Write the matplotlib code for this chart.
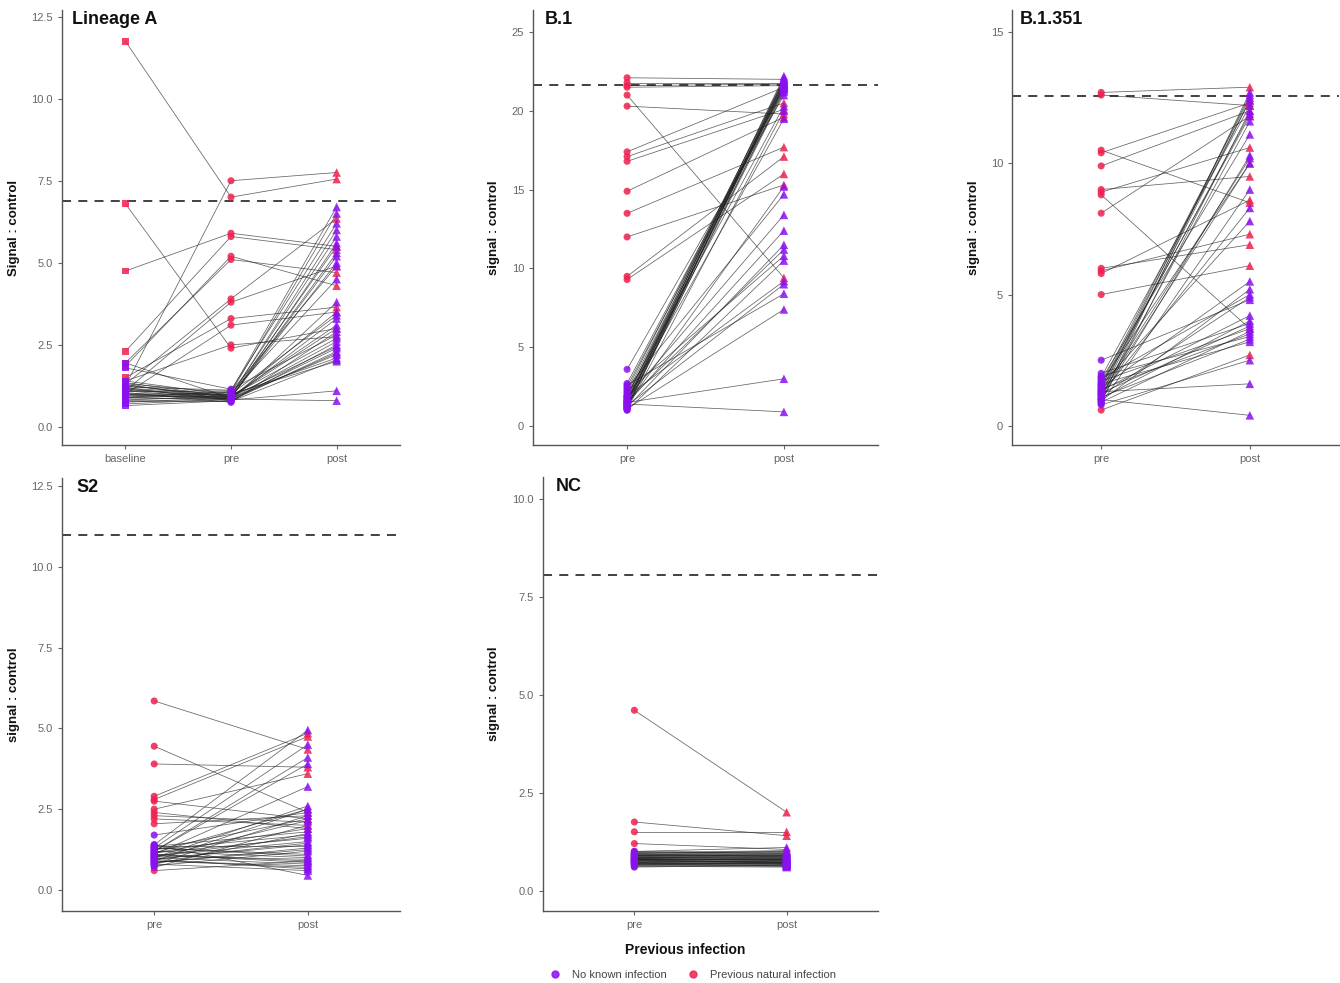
import matplotlib
matplotlib.use("Agg")
import matplotlib.pyplot as plt
from matplotlib.lines import Line2D

plt.rcParams['font.family'] = ['Liberation Sans', 'DejaVu Sans']

PURPLE = '#8A10F0'
RED = '#F0204E'
group_labels = ['No known infection', 'Previous natural infection']

# ---------------- Lineage A (baseline, pre, post) ----------------
la_group = ['P'] * 12 + ['N'] * 33
la_baseline = [11.75, 6.8, 4.75, 1.25, 2.3, 1.85, 1.95, 1.3, 1.1, 1.5, 1.0, 1.4,
               0.65, 0.7, 0.75, 0.8, 0.82, 0.85, 0.88, 0.9, 0.92, 0.95, 0.98, 1.0,
               1.02, 1.05, 1.08, 1.1, 1.12, 1.15, 1.18, 1.2, 1.22, 1.25, 1.28, 1.3,
               1.32, 1.35, 1.4, 0.78, 0.9, 1.0, 1.15, 1.8, 1.95]
la_pre = [7.0, 2.4, 5.9, 7.5, 5.8, 5.2, 5.1, 3.9, 3.8, 3.3, 3.1, 2.5,
          0.8, 0.85, 0.9, 0.78, 0.95, 0.88, 1.0, 0.82, 0.92, 1.05, 0.86, 0.9,
          0.98, 0.75, 1.1, 0.84, 0.93, 0.87, 1.0, 0.8, 1.12, 0.95, 0.89, 0.83,
          1.03, 0.91, 0.97, 0.79, 1.08, 0.86, 0.94, 1.15, 0.88]
la_post = [7.55, 3.0, 5.5, 7.75, 5.4, 4.3, 4.7, 6.35, 4.9, 3.65, 3.5, 2.75,
           2.3, 0.8, 5.0, 2.05, 6.0, 2.2, 3.4, 1.1, 2.45, 6.5, 2.6, 5.2,
           2.1, 2.9, 6.7, 2.4, 3.1, 5.6, 2.0, 3.8, 6.2, 2.7, 5.3, 2.25,
           4.5, 3.0, 5.8, 2.5, 4.9, 3.3, 5.5, 2.8, 3.5]

# ---------------- B.1 (pre, post) ----------------
b1_group = ['P'] * 14 + ['N'] * 36
b1_pre = [22.1, 21.8, 21.6, 21.5, 21.0, 20.3, 17.4, 17.1, 16.8, 14.9, 13.5, 12.0, 9.5, 9.3,
          1.4, 1.5, 1.1, 2.6, 1.3, 1.9, 1.0, 2.2, 1.6, 1.2, 1.45, 1.8, 2.4, 1.35, 1.7, 1.05,
          2.0, 3.6, 1.25, 1.55, 1.15, 2.7, 1.65, 1.5, 1.9, 1.3, 2.1, 1.4, 1.75, 1.2, 2.3,
          1.6, 1.1, 1.85, 1.45, 2.5]
b1_post = [22.0, 21.8, 21.7, 21.6, 9.4, 19.8, 21.5, 20.5, 20.1, 19.6, 17.7, 15.3, 17.1, 16.0,
           0.9, 3.0, 7.4, 8.4, 9.0, 9.2, 10.5, 10.8, 11.2, 11.5, 12.4, 13.4, 14.7, 15.2,
           19.5, 20.0, 20.3, 21.0, 21.2, 21.3, 21.4, 21.5, 21.5, 21.6, 21.6, 21.7, 21.7,
           21.8, 21.8, 21.9, 21.9, 22.0, 22.0, 22.1, 22.2, 21.4]

# ---------------- B.1.351 (pre, post) ----------------
b1351_group = ['P'] * 16 + ['N'] * 34
b1351_pre = [12.7, 12.6, 10.5, 10.4, 9.9, 9.0, 8.9, 8.8, 8.1, 6.0, 5.9, 5.8, 5.0, 0.6, 1.2, 1.5,
             1.0, 1.3, 0.8, 1.6, 1.1, 1.9, 1.4, 0.9, 1.7, 1.25, 2.0, 1.05, 1.35, 2.5, 1.15,
             1.8, 0.95, 1.45, 1.55, 1.2, 0.85, 1.65, 1.3, 1.0, 1.75, 1.1, 1.5, 1.4, 0.9,
             1.85, 1.2, 1.6, 1.3, 1.0]
b1351_post = [12.9, 12.2, 8.5, 12.3, 12.0, 9.5, 10.6, 3.7, 11.8, 6.9, 7.3, 8.6, 6.1, 2.7, 10.0, 12.4,
              0.4, 1.6, 2.5, 3.2, 3.3, 3.4, 3.5, 3.6, 3.7, 3.8, 3.9, 4.0, 4.2, 4.8, 4.9,
              5.0, 5.2, 5.5, 7.8, 8.3, 9.0, 10.0, 10.2, 10.3, 11.1, 11.6, 11.8, 11.9, 12.0,
              12.2, 12.4, 12.5, 12.6, 12.7]

# ---------------- S2 (pre, post) ----------------
s2_group = ['P'] * 12 + ['N'] * 38
s2_pre = [5.85, 4.45, 3.9, 2.9, 2.8, 2.75, 2.5, 2.4, 2.3, 2.2, 2.05, 0.6,
          1.7, 1.4, 1.3, 1.2, 1.1, 1.0, 0.9, 0.8, 0.7, 1.35, 1.25, 1.15, 1.05, 0.95,
          0.85, 0.75, 1.3, 1.2, 1.1, 1.0, 0.9, 0.8, 1.4, 1.25, 1.15, 1.05, 0.95, 0.85,
          1.3, 1.1, 0.9, 1.2, 1.0, 0.8, 1.35, 1.05, 0.95, 1.15]
s2_post = [4.35, 2.4, 3.8, 4.85, 4.75, 2.2, 3.6, 1.9, 2.1, 2.0, 2.3, 0.9,
           2.4, 4.95, 4.5, 4.1, 3.2, 2.6, 2.5, 2.3, 2.0, 1.8, 1.7, 1.6, 1.5, 1.4,
           1.3, 1.2, 1.1, 1.0, 0.9, 0.8, 0.7, 0.6, 0.45, 2.2, 1.9, 1.65, 1.45, 1.25,
           1.05, 0.85, 0.75, 3.9, 2.15, 1.75, 1.35, 0.95, 0.65, 2.5]

# ---------------- NC (pre, post) ----------------
nc_group = ['P'] * 5 + ['N'] * 45
nc_pre = [4.6, 1.75, 1.5, 1.2, 1.0,
          0.6, 0.65, 0.7, 0.72, 0.75, 0.78, 0.8, 0.82, 0.85, 0.88, 0.9, 0.92, 0.95, 1.0,
          0.62, 0.68, 0.74, 0.77, 0.8, 0.83, 0.86, 0.9, 0.94, 0.66, 0.7, 0.73, 0.76,
          0.79, 0.81, 0.84, 0.87, 0.89, 0.93, 0.97, 0.64, 0.69, 0.71, 0.8, 0.85, 0.9,
          0.75, 0.78, 0.82, 0.96, 0.67]
nc_post = [2.0, 1.4, 1.5, 1.05, 0.95,
           0.65, 0.7, 0.68, 0.75, 0.8, 0.72, 0.78, 0.85, 0.82, 0.9, 0.88, 0.95, 1.0, 1.1,
           0.6, 0.66, 0.74, 0.7, 0.77, 0.84, 0.8, 0.92, 0.86, 0.63, 0.69, 0.75, 0.73,
           0.81, 0.79, 0.83, 0.9, 0.87, 0.97, 1.02, 0.62, 0.71, 0.67, 0.76, 0.89, 0.93,
           0.72, 0.8, 0.78, 0.99, 0.64]

cutoffs = {'Lineage A': 6.88, 'B.1': 21.66, 'B.1.351': 12.55, 'S2': 11.0, 'NC': 8.06}

W, H = 1340, 983
fig = plt.figure(figsize=(W / 100, H / 100), dpi=100)


def px_axes(l, r, t, b):
    return fig.add_axes([l / W, 1 - b / H, (r - l) / W, (b - t) / H])


panels = [
    dict(title='Lineage A', ylabel='Signal : control', box=(62, 400, 10, 445),
         cats=['baseline', 'pre', 'post'], series=[la_baseline, la_pre, la_post], grp=la_group,
         ylim=(-0.55, 12.7), yticks=[0, 2.5, 5, 7.5, 10, 12.5], fmt='{:.1f}', labx=20, tx=10),
    dict(title='B.1', ylabel='signal : control', box=(533, 878, 10, 445),
         cats=['pre', 'post'], series=[b1_pre, b1_post], grp=b1_group,
         ylim=(-1.2, 26.4), yticks=[0, 5, 10, 15, 20, 25], fmt='{:.0f}', labx=500, tx=12),
    dict(title='B.1.351', ylabel='signal : control', box=(1012, 1339, 10, 445),
         cats=['pre', 'post'], series=[b1351_pre, b1351_post], grp=b1351_group,
         ylim=(-0.73, 15.84), yticks=[0, 5, 10, 15], fmt='{:.0f}', labx=980, tx=8),
    dict(title='S2', ylabel='signal : control', box=(62, 400, 478, 911),
         cats=['pre', 'post'], series=[s2_pre, s2_post], grp=s2_group,
         ylim=(-0.65, 12.75), yticks=[0, 2.5, 5, 7.5, 10, 12.5], fmt='{:.1f}', labx=20, tx=14),
    dict(title='NC', ylabel='signal : control', box=(543, 878, 477, 911),
         cats=['pre', 'post'], series=[nc_pre, nc_post], grp=nc_group,
         ylim=(-0.52, 10.55), yticks=[0, 2.5, 5, 7.5, 10], fmt='{:.1f}', labx=500, tx=13),
]

markers_by_cat = {'baseline': 's', 'pre': 'o', 'post': '^'}
sizes_by_cat = {'baseline': 24, 'pre': 26, 'post': 38}

for p in panels:
    l, r, t, b = p['box']
    ax = px_axes(l, r, t, b)
    ncat = len(p['cats'])
    xs = list(range(1, ncat + 1))
    nsub = len(p['grp'])
    for i in range(nsub):
        ax.plot(xs, [s[i] for s in p['series']], color='#222222', lw=0.55, alpha=0.7, zorder=2)
    for ci, cat in enumerate(p['cats']):
        cols = [RED if g == 'P' else PURPLE for g in p['grp']]
        ax.scatter([xs[ci]] * nsub, p['series'][ci], c=cols, marker=markers_by_cat[cat],
                   s=sizes_by_cat[cat], linewidths=0, alpha=0.85, zorder=3)
    ax.axhline(cutoffs[p['title']], color='#333333', lw=1.3, ls=(0, (5, 4)), zorder=1)
    ax.set_xlim(0.4, ncat + 0.6)
    ax.set_ylim(*p['ylim'])
    ax.set_xticks(xs)
    ax.set_xticklabels(p['cats'])
    ax.set_yticks(p['yticks'])
    ax.set_yticklabels([p['fmt'].format(v) for v in p['yticks']])
    for side in ['top', 'right']:
        ax.spines[side].set_visible(False)
    for side in ['left', 'bottom']:
        ax.spines[side].set_color('#555555')
        ax.spines[side].set_linewidth(1.0)
    ax.tick_params(axis='both', colors='#666666', labelsize=8, length=3, width=0.8,
                   labelcolor='#666666')
    ax.text(p['tx'] / (r - l), 0.997, p['title'], transform=ax.transAxes, ha='left', va='top',
            fontsize=13, fontweight='bold', color='#111111')
    ax.set_ylabel(p['ylabel'], fontsize=9.5, fontweight='bold', color='#111111')
    ax.yaxis.set_label_coords((p['labx'] - l) / (r - l), 0.5)

fig.text(685 / W, 1 - 950 / H, 'Previous infection', ha='center', va='center',
         fontsize=10, fontweight='bold', color='#111111')

handles = [Line2D([], [], marker='o', ls='none', color=PURPLE, markersize=5, alpha=0.85),
           Line2D([], [], marker='o', ls='none', color=RED, markersize=5, alpha=0.85)]
fig.legend(handles, group_labels, loc='center', bbox_to_anchor=(690 / W, 1 - 975 / H), ncol=2,
           frameon=False, fontsize=8, handletextpad=0.5, columnspacing=1.4, labelcolor='#444444')

fig.savefig('out.png', dpi=100)
